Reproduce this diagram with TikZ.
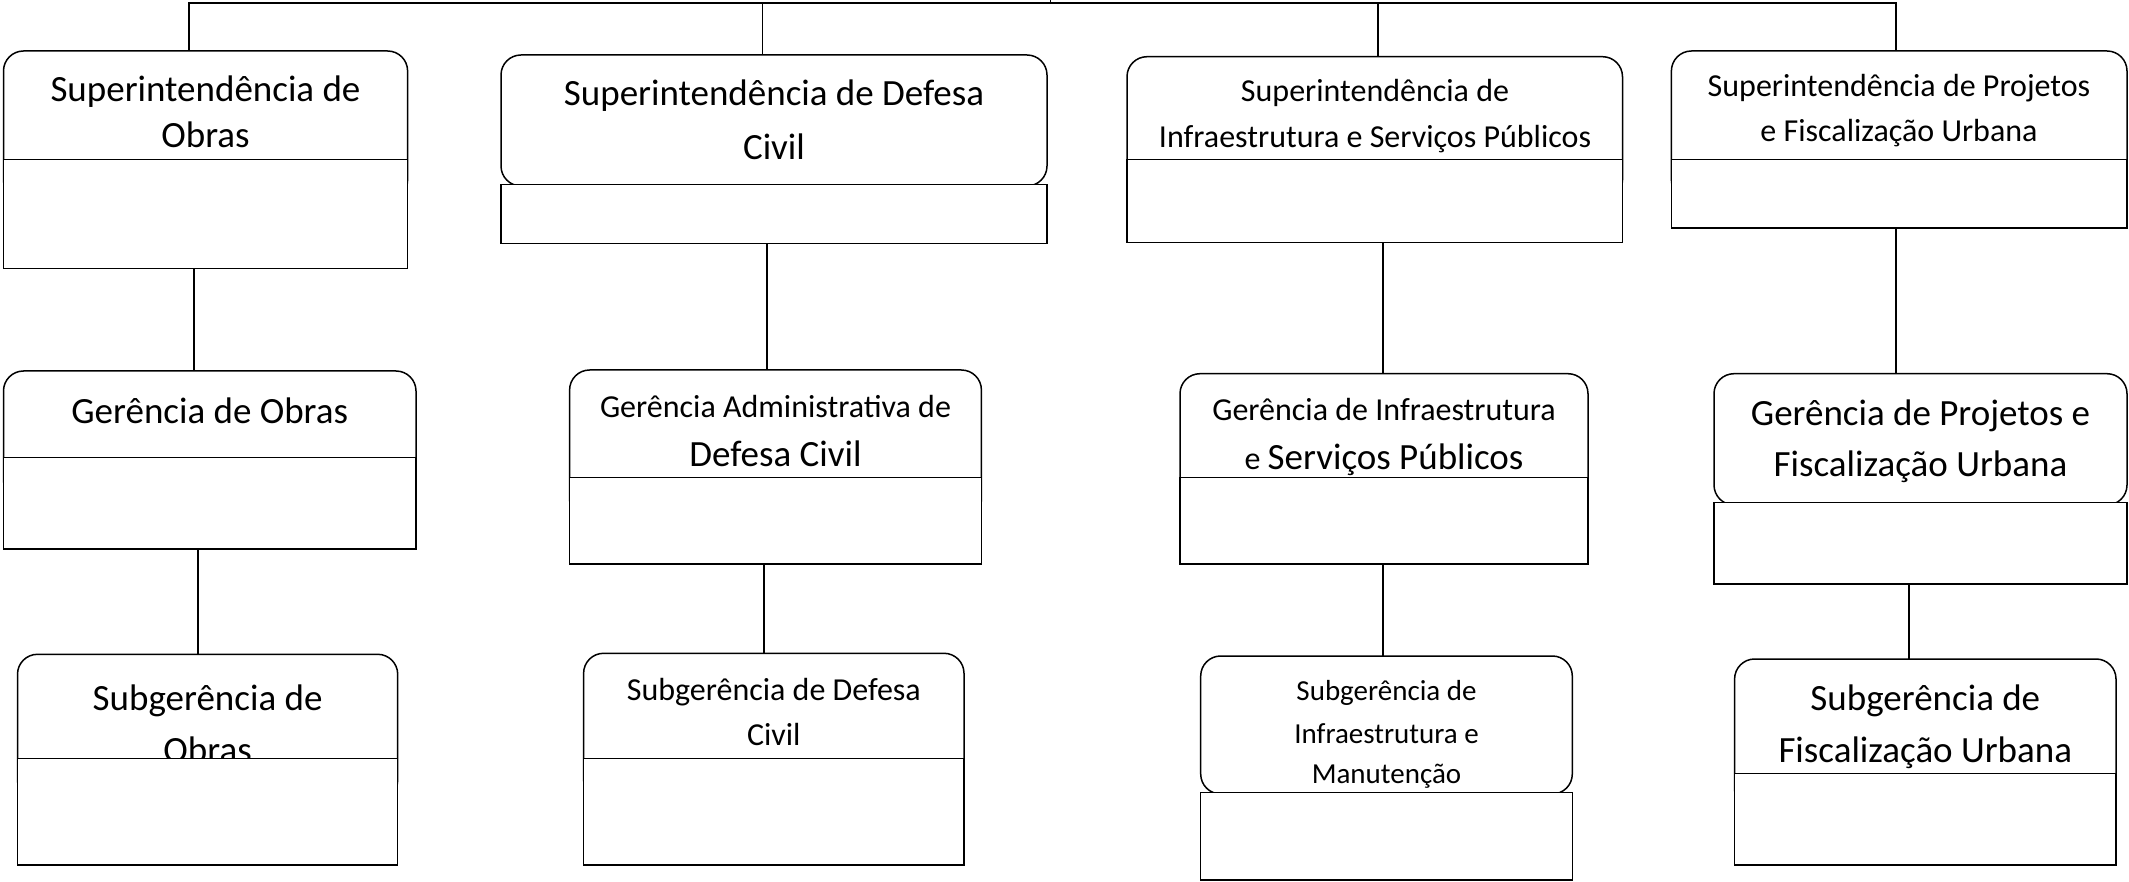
\documentclass[tikz,border=0pt]{standalone}
\usepackage{fontspec}
\setmainfont{Carlito}
\newcommand\szL{\fontsize{37}{44}\selectfont}
\newcommand\szM{\fontsize{32}{38}\selectfont}
\newcommand\szS{\fontsize{29}{35}\selectfont}
\newcommand\orgbox[6]{\node[#6, minimum width={(#3-#2)*1pt}, minimum height={(#5-#4)*1pt}] (#1) at ({(#2+#3)/2},{(#4+#5)/2}) {};}
\begin{document}
\begin{tikzpicture}[x=1pt,y=-1pt,
  rtop/.style={draw, fill=white, rounded corners=20pt, line width=1.5pt, inner sep=0pt, outer sep=0pt},
  rbot/.style={draw, fill=white, line width=1.5pt, inner sep=0pt, outer sep=0pt},
  lbl/.style={anchor=base, inner sep=0pt},
  conn/.style={line width=1.4pt}]
\useasboundingbox (0,0) rectangle (2129,882);

% Row 1
\orgbox{b1t}{3.5}{407.6}{51}{200}{rtop}
\node[lbl] (t1a) at (205.5,101.7) {\szL Superintendência de};
\node[lbl] (t1b) at (205.5,147.7) {\szL Obras};
\orgbox{b1b}{3.5}{407.6}{159.3}{268.3}{rbot}

\orgbox{b2t}{501}{1047}{55}{186}{rtop}
\node[lbl] (t2a) at (774,106) {\szL Superintendência de Defesa};
\node[lbl] (t2b) at (774,159.3) {\szL Civil};
\orgbox{b2b}{501}{1047}{184.3}{243.3}{rbot}

\orgbox{b3t}{1127}{1622.5}{56.7}{200}{rtop}
\node[lbl] (t3a) at (1375,101.7) {\szM Superintendência de};
\node[lbl] (t3b) at (1375,147.7) {\szM Infraestrutura e Serviços Públicos};
\orgbox{b3b}{1127}{1622.5}{159.3}{242.7}{rbot}

\orgbox{b4t}{1671.4}{2127}{51}{200}{rtop}
\node[lbl] (t4a) at (1899,96.7) {\szM Superintendência de Projetos};
\node[lbl] (t4b) at (1899,141.7) {\szM e Fiscalização Urbana};
\orgbox{b4b}{1671.4}{2127}{159.3}{228}{rbot}

% Row 2
\orgbox{b5t}{3.5}{416}{371}{500}{rtop}
\node[lbl] (t5a) at (209.75,423.3) {\szL Gerência de Obras};
\orgbox{b5b}{3.5}{416}{457.7}{549}{rbot}

\orgbox{b6t}{569.6}{981.4}{370}{520}{rtop}
\node[lbl] (t6a) at (775.5,417.3) {\szM Gerência Administrativa de};
\node[lbl] (t6b) at (775.5,466) {\szL Defesa Civil};
\orgbox{b6b}{569.6}{981.4}{477.7}{564}{rbot}

\orgbox{b7t}{1180}{1588}{373.7}{520}{rtop}
\node[lbl] (t7a) at (1384,420.7) {\szM Gerência de Infraestrutura};
\node[lbl] (t7b) at (1384,469.3) {\szM e \szL Serviços Públicos};
\orgbox{b7b}{1180}{1588}{477.7}{564}{rbot}

\orgbox{b8t}{1714}{2127}{373.7}{505}{rtop}
\node[lbl] (t8a) at (1920.5,426) {\szL Gerência de Projetos e};
\node[lbl] (t8b) at (1920.5,476.7) {\szL Fiscalização Urbana};
\orgbox{b8b}{1714}{2127}{502.7}{584}{rbot}

% Row 3
\orgbox{b9t}{17.5}{397.7}{654.3}{800}{rtop}
\node[lbl] (t9a) at (207.6,710) {\szL Subgerência de};
\node[lbl] (t9b) at (207.6,762) {\szL Obras};
\orgbox{b9b}{17.5}{397.7}{758.3}{865}{rbot}

\orgbox{b10t}{583.6}{964}{653.3}{800}{rtop}
\node[lbl] (t10a) at (773.8,700) {\szM Subgerência de Defesa};
\node[lbl] (t10b) at (773.8,745) {\szM Civil};
\orgbox{b10b}{583.6}{964}{758.3}{865}{rbot}

\orgbox{b11t}{1200.7}{1572.3}{656}{794}{rtop}
\node[lbl] (t11a) at (1386.5,700) {\szS Subgerência de};
\node[lbl] (t11b) at (1386.5,743.3) {\szS Infraestrutura e};
\node[lbl] (t11c) at (1386.5,783.3) {\szS Manutenção};
\orgbox{b11b}{1200.7}{1572.3}{792.7}{880}{rbot}

\orgbox{b12t}{1734.6}{2116}{659}{810}{rtop}
\node[lbl] (t12a) at (1925.3,710.7) {\szL Subgerência de};
\node[lbl] (t12b) at (1925.3,762.7) {\szL Fiscalização Urbana};
\orgbox{b12b}{1734.6}{2116}{773.3}{865}{rbot}

% Connectors
\coordinate (top) at (1050.7,0);
\coordinate (busL) at (189,3);
\coordinate (busR) at (1896,3);
\coordinate (x2) at (762.6,3);
\coordinate (x3) at (1378,3);
\draw[conn] (b1t.north -| busL) -- (busL) -- (busR) -- (b4t.north -| busR);
\draw[conn] (top) -- (top |- busL);
\draw[conn] (x2) -- (b2t.north -| x2);
\draw[conn] (x3) -- (b3t.north -| x3);

\coordinate (c1) at (194,0);
\coordinate (c2) at (766.8,0);
\coordinate (c3) at (1383,0);
\coordinate (c4) at (1896,0);
\draw[conn] (b1b.south -| c1) -- (b5t.north -| c1);
\draw[conn] (b2b.south -| c2) -- (b6t.north -| c2);
\draw[conn] (b3b.south -| c3) -- (b7t.north -| c3);
\draw[conn] (b4b.south -| c4) -- (b8t.north -| c4);

\coordinate (d1) at (198,0);
\coordinate (d2) at (764,0);
\coordinate (d3) at (1383,0);
\coordinate (d4) at (1909,0);
\draw[conn] (b5b.south -| d1) -- (b9t.north -| d1);
\draw[conn] (b6b.south -| d2) -- (b10t.north -| d2);
\draw[conn] (b7b.south -| d3) -- (b11t.north -| d3);
\draw[conn] (b8b.south -| d4) -- (b12t.north -| d4);
\end{tikzpicture}
\end{document}
